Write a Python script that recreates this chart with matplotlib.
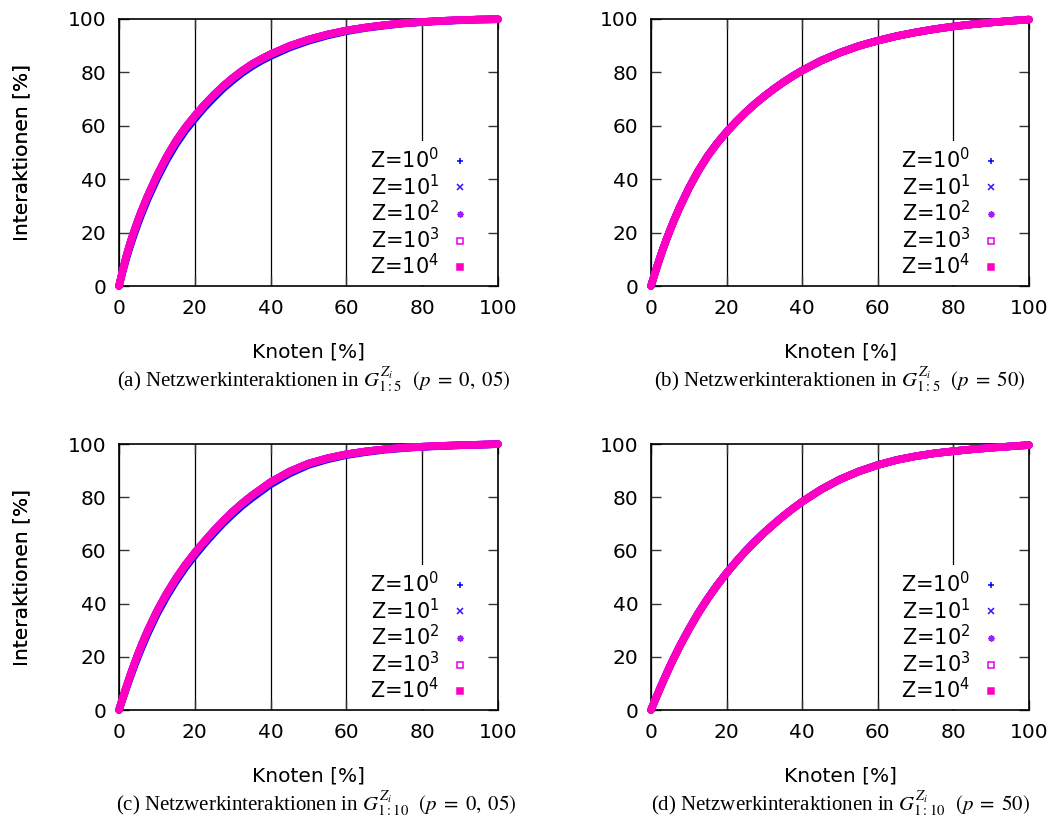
import matplotlib
matplotlib.use("Agg")
import matplotlib.pyplot as plt
from matplotlib.lines import Line2D

# ---------------- data ----------------
knoten = [0, 1, 2, 3, 4, 5, 6, 7.5, 10, 12.5, 15, 17.5, 20, 22.5, 25, 27.5,
          30, 32.5, 35, 37.5, 40, 45, 50, 55, 60, 65, 70, 75, 80, 85, 90,
          95, 100]

# panel (a): G_{1:5}, p = 0,05
a_z0 = [0, 5.4, 10.6, 15.2, 19.4, 23.4, 27.1, 32.3, 40.1, 47, 53, 58.2,
        62.6, 66.8, 70.5, 74, 77, 79.8, 82.2, 84.3, 86.1, 89.3, 91.8, 93.8,
        95.4, 96.6, 97.5, 98.3, 98.8, 99.2, 99.5, 99.8, 99.9]
a_zn = [0, 6, 11.5, 16.3, 20.6, 24.6, 28.3, 33.5, 41.3, 48.2, 54.2, 59.3,
        63.7, 67.8, 71.5, 74.9, 77.9, 80.6, 83, 85, 86.8, 89.9, 92.3, 94.2,
        95.7, 96.8, 97.7, 98.4, 98.9, 99.3, 99.6, 99.8, 99.9]
# panel (b): G_{1:5}, p = 50
b_zn = [0, 4.6, 9, 13.2, 17.1, 20.8, 24.3, 29.2, 36.6, 43.1, 48.7, 53.5,
        57.7, 61.5, 65, 68.2, 71.1, 73.8, 76.3, 78.6, 80.7, 84.4, 87.4, 89.9,
        91.9, 93.6, 95, 96.2, 97.2, 98, 98.7, 99.3, 99.8]
# panel (c): G_{1:10}, p = 0,05
c_z0 = [0, 4.2, 8.4, 12.4, 16.3, 20, 23.5, 28.5, 36, 42.5, 48.3, 53.5,
        58.1, 62.4, 66.4, 70.2, 73.6, 76.8, 79.6, 82.2, 84.8, 88.9, 92.1,
        94.2, 95.8, 96.9, 97.8, 98.4, 98.9, 99.2, 99.5, 99.7, 99.95]
c_zn = [0, 4.6, 9, 13.2, 17.2, 21, 24.6, 29.6, 37.1, 43.6, 49.35, 54.5,
        59.1, 63.35, 67.35, 71.1, 74.55, 77.7, 80.55, 83.1, 85.65, 89.65,
        92.65, 94.65, 96.15, 97.2, 98, 98.6, 99, 99.3, 99.55, 99.75, 99.95]
# panel (d): G_{1:10}, p = 50
d_zn = [0, 3.45, 6.8, 10.1, 13.3, 16.4, 19.4, 23.7, 30.3, 36.4, 41.9, 46.9,
        51.5, 55.75, 59.7, 63.35, 66.75, 69.9, 72.9, 75.7, 78.3, 82.9, 86.7,
        89.7, 92.1, 94, 95.4, 96.5, 97.3, 98, 98.6, 99.1, 99.6]

series_labels = ["Z=10$^0$", "Z=10$^1$", "Z=10$^2$", "Z=10$^3$", "Z=10$^4$"]
series_colors = ["#0000ff", "#3a10ff", "#9a20ff", "#e400ee", "#ff00c0"]
series_markers = ["+", "x", (8, 2, 0), "s", "s"]
series_fill = [True, True, True, False, True]

panels = [
    ("(a) Netzwerkinteraktionen in $G^{Z_i}_{1:5}$  $(p\\;=\\;0,\\;05)$",
     [a_z0, a_zn, a_zn, a_zn, a_zn]),
    ("(b) Netzwerkinteraktionen in $G^{Z_i}_{1:5}$  $(p\\;=\\;50)$",
     [b_zn, b_zn, b_zn, b_zn, b_zn]),
    ("(c) Netzwerkinteraktionen in $G^{Z_i}_{1:10}$  $(p\\;=\\;0,\\;05)$",
     [c_z0, c_zn, c_zn, c_zn, c_zn]),
    ("(d) Netzwerkinteraktionen in $G^{Z_i}_{1:10}$  $(p\\;=\\;50)$",
     [d_zn, d_zn, d_zn, d_zn, d_zn]),
]

ticks = [0, 20, 40, 60, 80, 100]

# ---------------- layout ----------------
W, H = 1061, 830
plt.rcParams['font.family'] = ['DejaVu Sans']
plt.rcParams['mathtext.fontset'] = 'dejavusans'
fig = plt.figure(figsize=(W / 100, H / 100), dpi=100)

# axes boxes in pixels: (left, top, right, bottom)
boxes = [(119, 19, 498, 286), (651, 19, 1029, 286),
         (119, 444, 498, 710), (651, 444, 1029, 710)]
caption_x = [314, 840, 316, 841]

FS = 14.5
for (cap, ys), (l, t, r, b), cx in zip(panels, boxes, caption_x):
    ax = fig.add_axes([l / W, 1 - b / H, (r - l) / W, (b - t) / H])
    for y, col in zip(ys, series_colors):
        ax.plot(knoten, y, color=col, lw=5.4, solid_capstyle='round',
                solid_joinstyle='round', clip_on=False, zorder=3)
    ax.set_xlim(0, 100)
    ax.set_ylim(0, 100)
    ax.set_xticks(ticks)
    ax.set_yticks(ticks)
    ax.tick_params(direction='in', length=7.5, width=1.0, labelsize=FS,
                   top=True, right=True, pad=9, color='#333333')
    ax.grid(axis='x', color='black', lw=0.9)
    for sp in ax.spines.values():
        sp.set_linewidth(1.2)

    handles = []
    for lab, col, mk, fill in zip(series_labels, series_colors,
                                  series_markers, series_fill):
        handles.append(Line2D([], [], ls='none', marker=mk, color=col,
                              markersize=4.5, markeredgewidth=1.1,
                              markerfacecolor=col if fill else 'white',
                              label=lab))
    ax.legend(handles=handles, loc='lower right',
              bbox_to_anchor=(0.955, 0.004), borderaxespad=0,
              markerfirst=False, fontsize=15, handlelength=1.4,
              handletextpad=0.3, labelspacing=0.07, borderpad=0.3,
              frameon=True, facecolor='white', edgecolor='none',
              framealpha=1.0, fancybox=False)

    yc = (t + b) / 2
    fig.text(22 / W, 1 - yc / H, "Interaktionen [%]", rotation=90,
             ha='center', va='center', fontsize=FS)
    xc = (l + r) / 2
    fig.text(xc / W, 1 - (b + 66) / H, "Knoten [%]", ha='center',
             va='center', fontsize=FS)
    fig.text(cx / W, 1 - (b + 101) / H, cap, ha='center', va='baseline',
             fontsize=15, family=['Liberation Serif'], math_fontfamily='stix')

fig.savefig("out.png", dpi=100)
